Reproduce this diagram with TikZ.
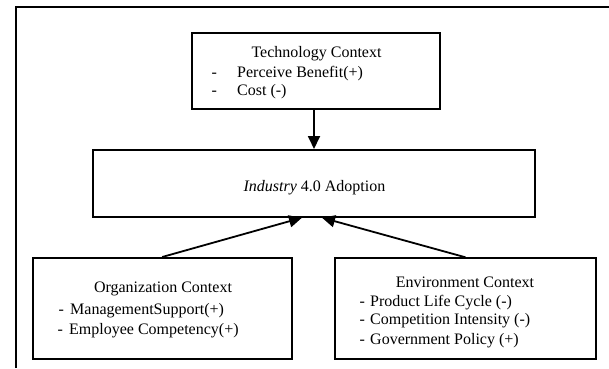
\documentclass[tikz,border=0pt]{standalone}
\usepackage{fontspec}
\setmainfont{Liberation Serif}
\usetikzlibrary{arrows.meta}

\begin{document}
\begin{tikzpicture}[x=1pt, y=-1pt,
  ctxbox/.style={draw, line width=2pt, inner sep=0pt},
  lbl/.style={anchor=base, inner sep=0pt, font=\fontsize{16}{19}\selectfont},
  item/.style={lbl, anchor=base west},
  link/.style={line width=1.8pt, -{Triangle[length=13pt,width=12pt]}}]

  \useasboundingbox (0,0) rectangle (609,368);

  % outer frame (left and top edges)
  \draw[line width=1.7pt] (15.7,368) -- (15.7,7) -- (609,7);

  % context boxes
  \node[ctxbox, minimum width=248.3pt, minimum height=76.6pt] (tech) at (315.85,71) {};
  \node[ctxbox, minimum width=441.4pt, minimum height=66.7pt] (ind) at (314,183.35) {};
  \node[ctxbox, minimum width=259pt, minimum height=101.3pt] (org) at (162.2,308.65) {};
  \node[ctxbox, minimum width=261pt, minimum height=101pt] (env) at (465.5,308.8) {};

  % technology context
  \node[lbl] (techT) at (316.5,57) {Technology Context};
  \node[item] (techA) at (211.3,77.5) {\makebox[25.7pt][l]{-}Perceive Benefit(+)};
  \node[item] (techB) at (211.3,95.5) {\makebox[25.7pt][l]{-}Cost (-)};

  % adoption
  \node[lbl] (indT) at (314.5,191) {\textit{Industry} 4.0 Adoption};

  % organization context
  \node[lbl] (orgT) at (163,292) {Organization Context};
  \node[item] (orgA) at (58.5,314) {\makebox[11.5pt][l]{-}ManagementSupport(+)};
  \node[item] (orgB) at (57.5,334) {\makebox[11.5pt][l]{-}Employee Competency(+)};

  % environment context
  \node[lbl] (envT) at (465,287) {Environment Context};
  \node[item] (envA) at (359.5,306) {\makebox[10.5pt][l]{-}Product Life Cycle (-)};
  \node[item] (envB) at (359.5,324) {\makebox[10.5pt][l]{-}Competition Intensity (-)};
  \node[item] (envC) at (359.5,344) {\makebox[10.5pt][l]{-}Government Policy (+)};

  % influences
  \draw[link] (ind.north |- tech.south) -- (ind.north);
  \draw[link] (org.north) -- ([xshift=-12pt]ind.south);
  \draw[link] (env.north) -- ([xshift=8pt]ind.south);
\end{tikzpicture}
\end{document}
